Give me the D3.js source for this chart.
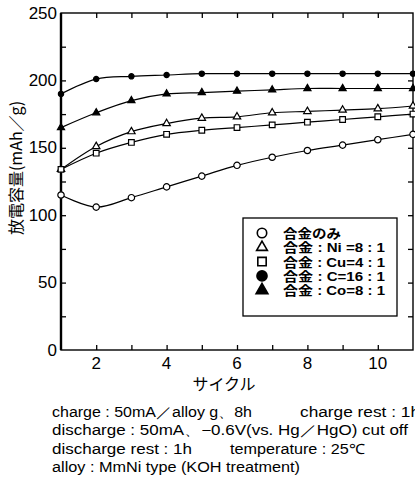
<!DOCTYPE html>
<html>
<head>
<meta charset="utf-8">
<script src="https://cdn.jsdelivr.net/npm/d3@7"></script>
<style>
  body { margin: 0; background: #fff; }
  svg { display: block; font-family: "Liberation Sans", Arial, sans-serif; }
</style>
</head>
<body>
<svg></svg>
<script>
const cycles = [1, 2, 3, 4, 5, 6, 7, 8, 9, 10, 11];
const alloyOnly = [115, 106, 113, 121, 129, 137, 143, 148, 152, 156, 160];
const niAdded = [134, 151, 162, 168, 172, 173, 176, 177, 178, 179, 181];
const cuAdded = [134, 146, 154, 160, 163, 165, 167, 169, 171, 173, 175];
const cAdded = [190, 201, 203, 204, 205, 205, 205, 205, 205, 205, 205];
const coAdded = [165, 176, 185, 190, 191, 192, 193, 194, 194, 194, 194];

const seriesNames = ["合金のみ", "合金 : Ni =8 : 1", "合金 : Cu=4 : 1", "合金 : C=16 : 1", "合金 : Co=8 : 1"];
const xTicks = [2, 4, 6, 8, 10];
const yTicks = [0, 50, 100, 150, 200, 250];
const notes = [
  ["charge : 50mA／alloy g、8h", "charge rest : 1h"],
  ["discharge : 50mA、−0.6V(vs.  Hg／HgO) cut  off"],
  ["discharge  rest : 1h", "temperature : 25℃"],
  ["alloy : MmNi  type (KOH  treatment)"]
];

const series = [
  { name: seriesNames[0], values: alloyOnly, symbol: d3.symbolCircle, fill: "#fff", size: 32 },
  { name: seriesNames[1], values: niAdded, symbol: d3.symbolTriangle, fill: "#fff", size: 24 },
  { name: seriesNames[2], values: cuAdded, symbol: d3.symbolSquare, fill: "#fff", size: 32 },
  { name: seriesNames[3], values: cAdded, symbol: d3.symbolCircle, fill: "#000", size: 22 },
  { name: seriesNames[4], values: coAdded, symbol: d3.symbolTriangle, fill: "#000", size: 22 }
];

const svg = d3.select("svg").attr("width", 415).attr("height", 479);

const x = d3.scaleLinear().domain([1, 11]).range([61, 413]);
const y = d3.scaleLinear().domain([0, 250]).range([350, 13]);

// ticks pointing inward on all four sides
svg.append("g")
  .attr("transform", "translate(0,350)")
  .call(d3.axisBottom(x).tickValues(d3.range(2, 11)).tickSize(-5).tickFormat(""))
  .call(g => g.select(".domain").remove());
svg.append("g")
  .attr("transform", "translate(0,13)")
  .call(d3.axisTop(x).tickValues(d3.range(2, 11)).tickSize(-5).tickFormat(""))
  .call(g => g.select(".domain").remove());
svg.append("g")
  .attr("transform", "translate(61,0)")
  .call(d3.axisLeft(y).tickValues(d3.range(25, 250, 25)).tickSize(-5).tickFormat(""))
  .call(g => g.select(".domain").remove());
svg.append("g")
  .attr("transform", "translate(413,0)")
  .call(d3.axisRight(y).tickValues(d3.range(25, 250, 25)).tickSize(-5).tickFormat(""))
  .call(g => g.select(".domain").remove());
svg.selectAll(".tick line").attr("stroke", "#000").attr("stroke-width", 1.3);

svg.append("rect")
  .attr("x", 61).attr("y", 13)
  .attr("width", 352).attr("height", 337)
  .attr("fill", "none").attr("stroke", "#000").attr("stroke-width", 1.4);
svg.append("line")
  .attr("x1", 61).attr("x2", 61).attr("y1", 13).attr("y2", 350)
  .attr("stroke", "#000").attr("stroke-width", 2.4);

// tick labels
svg.selectAll(".ylab").data(yTicks).enter().append("text")
  .attr("x", 57).attr("y", d => y(d))
  .attr("text-anchor", "end").attr("dominant-baseline", "central")
  .attr("font-size", 17).text(d => d);
svg.selectAll(".xlab").data(xTicks).enter().append("text")
  .attr("x", d => x(d)).attr("y", 363)
  .attr("text-anchor", "middle").attr("dominant-baseline", "central")
  .attr("font-size", 17).text(d => d);

svg.append("text")
  .attr("x", 224).attr("y", 383)
  .attr("text-anchor", "middle").attr("dominant-baseline", "central")
  .attr("font-family", "Noto Sans CJK JP").attr("font-size", 16)
  .text("サイクル");
svg.append("text")
  .attr("transform", "translate(15,168) rotate(-90)")
  .attr("text-anchor", "middle").attr("dominant-baseline", "central")
  .attr("font-family", "Noto Sans CJK JP").attr("font-size", 16)
  .text("放電容量(mAh／g)");

const line = d3.line()
  .x((d, i) => x(cycles[i]))
  .y(d => y(d))
  .curve(d3.curveCatmullRom);

series.forEach(s => {
  svg.append("path")
    .attr("d", line(s.values))
    .attr("fill", "none").attr("stroke", "#000").attr("stroke-width", 1.2);
  svg.selectAll(null).data(s.values).enter().append("path")
    .attr("transform", (d, i) => `translate(${x(cycles[i])},${y(d)})`)
    .attr("d", d3.symbol(s.symbol, s.size))
    .attr("fill", s.fill).attr("stroke", "#000").attr("stroke-width", 1.2);
});

// legend
svg.append("rect")
  .attr("x", 243).attr("y", 218).attr("width", 154).attr("height", 98)
  .attr("fill", "#fff").attr("stroke", "#000").attr("stroke-width", 1.3);
const legendSymbols = [
  { symbol: d3.symbolCircle, fill: "#fff", size: 70 },
  { symbol: d3.symbolTriangle, fill: "#fff", size: 50 },
  { symbol: d3.symbolSquare, fill: "#fff", size: 70 },
  { symbol: d3.symbolCircle, fill: "#000", size: 80 },
  { symbol: d3.symbolTriangle, fill: "#000", size: 60 }
];
const legend = svg.selectAll(".leg").data(series).enter().append("g")
  .attr("transform", (d, i) => `translate(0,${233 + i * 14.3})`);
legend.append("path")
  .attr("transform", "translate(262,0)")
  .attr("d", (d, i) => d3.symbol(legendSymbols[i].symbol, legendSymbols[i].size)())
  .attr("fill", (d, i) => legendSymbols[i].fill)
  .attr("stroke", "#000").attr("stroke-width", 1.6);
legend.append("text")
  .attr("x", 283).attr("y", 5)
  .attr("font-family", "'Liberation Sans', 'Noto Sans CJK JP', sans-serif")
  .attr("font-size", 13).attr("font-weight", "bold")
  .attr("textLength", (d, i) => i === 0 ? 58 : 102)
  .attr("lengthAdjust", "spacingAndGlyphs")
  .text(d => d.name);

// test conditions below the chart
const noteX = [[52, 300], [52], [52, 230], [52]];
const noteW = [[200, 120], [356], [140, 135], [248]];
notes.forEach((row, r) => {
  row.forEach((t, c) => {
    svg.append("text")
      .attr("x", noteX[r][c]).attr("y", 412 + r * 18.3)
      .attr("dominant-baseline", "central")
      .attr("font-size", 14)
      .attr("textLength", noteW[r][c])
      .attr("lengthAdjust", "spacingAndGlyphs")
      .text(t);
  });
});
</script>
</body>
</html>
